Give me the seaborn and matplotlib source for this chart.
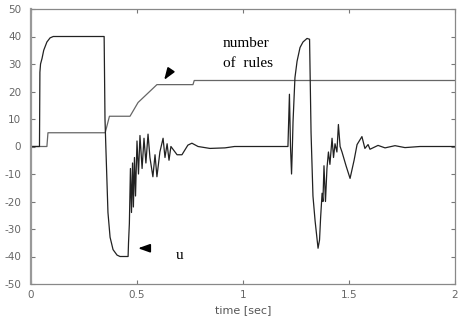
import matplotlib
matplotlib.use("Agg")
import matplotlib.pyplot as plt
import seaborn as sns
import pandas as pd

# control signal u
u_time = [0.0, 0.025, 0.040, 0.042, 0.045, 0.052, 0.060, 0.075, 0.090, 0.105,
          0.345, 0.349, 0.353, 0.358, 0.363, 0.373, 0.387, 0.406, 0.420, 0.458,
          0.460, 0.464, 0.469, 0.474, 0.479, 0.483, 0.488, 0.493, 0.500, 0.507,
          0.514, 0.524, 0.533, 0.542, 0.552, 0.561, 0.575, 0.585, 0.594, 0.608,
          0.623, 0.632, 0.642, 0.651, 0.660, 0.689, 0.712, 0.740, 0.759, 0.788,
          0.844, 0.915, 0.960, 1.212, 1.219, 1.224, 1.229, 1.233, 1.236, 1.245,
          1.255, 1.269, 1.283, 1.302, 1.314, 1.321, 1.330, 1.340, 1.354, 1.361,
          1.366, 1.373, 1.377, 1.382, 1.389, 1.396, 1.403, 1.410, 1.420, 1.427,
          1.434, 1.443, 1.450, 1.458, 1.467, 1.486, 1.505, 1.524, 1.538, 1.561,
          1.575, 1.590, 1.599, 1.637, 1.670, 1.717, 1.764, 1.835, 2.0]
u_value = [0, 0, 0, 27, 30, 32, 35, 38, 39.5, 40,
           40, 10, 0, -12, -24, -33, -37.5, -39.5, -40, -40,
           -35, -28, -8, -24, -6, -22, -4, -18, 2, -10,
           4, -8, 3, -6, 4.5, -4, -11, -3, -11, -2,
           3, -4, 1, -5, 0, -3, -3, 0.5, 1.2, 0,
           -0.7, -0.5, 0, 0, 19, 0, -10, 0, 9, 25,
           31, 36, 38, 39.3, 39, 5, -18, -27, -37, -34,
           -26, -17, -20, -7, -20, -8, -2, -6.5, 3, -4,
           1, -2, 8, 0, -2, -7, -11.6, -5, 0.7, 3.6,
           -0.7, 0.7, -1, 0.4, -0.5, 0.3, -0.4, 0, 0]

# number of rules
rules_time = [0.0, 0.075, 0.080, 0.350, 0.370, 0.467, 0.505, 0.594, 0.764, 0.770, 2.0]
rules_value = [0, 0, 5, 5, 11, 11, 16, 22.5, 22.5, 24, 24]

x_ticks = [0, 0.5, 1, 1.5, 2]
x_labels = ["0", "0.5", "1", "1.5", "2"]
y_ticks = [50, 40, 30, 20, 10, 0, -10, -20, -30, -40, -50]
y_labels = ["50", "40", "30", "20", "10", "0", "-10", "-20", "-30", "-40", "-50"]

sns.set_style("white")
plt.rcParams['font.family'] = ['DejaVu Sans']

fig = plt.figure(figsize=(4.63, 3.21), dpi=100)
ax = fig.add_axes([31/463, 1 - 284/321, (455 - 31)/463, (284 - 9)/321])

df_u = pd.DataFrame({"t": u_time, "v": u_value})
df_r = pd.DataFrame({"t": rules_time, "v": rules_value})
sns.lineplot(data=df_r, x="t", y="v", ax=ax, color="#666666", lw=0.9,
             estimator=None, sort=False)
sns.lineplot(data=df_u, x="t", y="v", ax=ax, color="#222222", lw=0.9,
             estimator=None, sort=False)

ax.set_xlim(0, 2)
ax.set_ylim(-50, 50)
ax.set_xticks(x_ticks)
ax.set_xticklabels(x_labels)
ax.set_yticks(y_ticks)
ax.set_yticklabels(y_labels)
ax.tick_params(direction="in", length=3, width=0.8, color="#777777",
               labelsize=7.5, labelcolor="#666666", top=True, right=True,
               bottom=True, left=True)
ax.tick_params(axis="y", pad=7)
ax.tick_params(axis="x", pad=4)
for s in ax.spines.values():
    s.set_color("#888888")
    s.set_linewidth(0.9)
ax.spines["left"].set_linewidth(1.6)
ax.spines["left"].set_color("#999999")

ax.set_xlabel("time [sec]", fontsize=8, color="#555555", labelpad=4)
ax.set_ylabel("")

serif = ["Liberation Serif", "DejaVu Serif"]
ax.text(0.906, 37.5, "number", family=serif, fontsize=11, color="black",
        va="center", ha="left")
ax.text(0.906, 30.2, "of  rules", family=serif, fontsize=11, color="black",
        va="center", ha="left")
ax.annotate("", xy=(0.628, 24.2), xytext=(0.656, 27.4),
            arrowprops=dict(arrowstyle="-|>,head_length=0.7,head_width=0.25",
                            color="black", lw=1.2, shrinkA=0, shrinkB=0))
ax.text(0.685, -39.5, "u", family=serif, fontsize=11, color="black",
        va="center", ha="left")
ax.annotate("", xy=(0.505, -37.0), xytext=(0.555, -37.0),
            arrowprops=dict(arrowstyle="-|>,head_length=0.7,head_width=0.25",
                            color="black", lw=1.2, shrinkA=0, shrinkB=0))

fig.savefig("out.png", dpi=100)
